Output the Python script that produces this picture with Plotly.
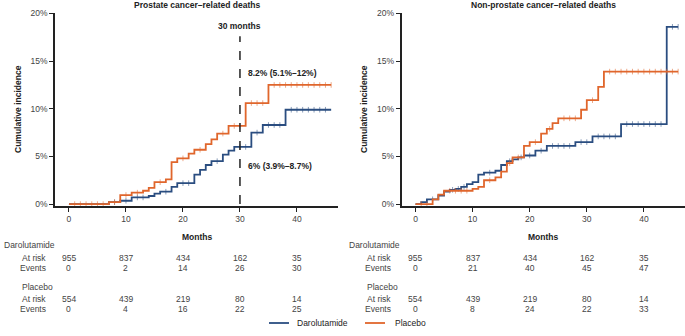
import plotly.graph_objects as go

W, H = 685, 336

# ---------------- data ----------------
months_ticks = [0, 10, 20, 30, 40]
pct_ticks = [0, 5, 10, 15, 20]
pct_labels = ["0%", "5%", "10%", "15%", "20%"]
end_month = 46

# Prostate cancer-related deaths
pc_daro_t = [0, 7, 9, 11, 14, 15, 16, 18, 19, 22, 23, 24, 25, 27, 28, 29, 32, 34, 38]
pc_daro_y = [0, 0.2, 0.35, 0.7, 0.85, 1.1, 1.3, 1.8, 2.2, 3.1, 3.6, 4.1, 4.5, 5.2, 5.6, 6.0, 7.5, 8.3, 9.9]
pc_plac_t = [0, 7, 9, 11, 13, 14, 15, 17, 18, 19, 21, 22, 24, 25, 26, 28, 31, 35]
pc_plac_y = [0, 0.2, 0.95, 1.2, 1.4, 1.7, 2.3, 2.6, 4.4, 4.8, 5.3, 5.7, 6.3, 6.8, 7.4, 8.2, 10.6, 12.5]
pc_daro_cens = [8, 10, 12, 13, 17, 20, 21, 26, 30, 31, 33, 35, 36, 37, 39, 40, 41, 42, 43, 44, 45]
pc_plac_cens = [1, 2, 3, 4, 5, 6, 8, 10, 12, 16, 20, 23, 27, 29, 30, 32, 33, 34, 36, 37, 38, 39, 40, 41, 42, 43, 44, 45, 46]

# Non-prostate cancer-related deaths
npc_daro_t = [0, 1, 2, 4, 5, 6, 7, 8, 9, 10, 11, 12, 14, 15, 16, 17, 18, 19, 21, 23, 28, 31, 36, 44]
npc_daro_y = [0, 0.2, 0.5, 0.9, 1.3, 1.5, 1.6, 1.8, 2.1, 2.3, 3.1, 3.3, 3.5, 4.1, 4.5, 4.7, 4.9, 5.1, 5.6, 6.1, 6.5, 7.1, 8.4, 18.6]
npc_plac_t = [0, 3, 4, 5, 10, 11, 12, 14, 15, 16, 17, 19, 20, 22, 23, 24, 25, 29, 30, 32, 33]
npc_plac_y = [0, 0.5, 1.0, 1.4, 1.6, 1.8, 2.5, 2.8, 3.4, 4.3, 4.9, 6.1, 6.5, 7.4, 7.9, 8.5, 9.0, 9.9, 10.9, 12.3, 13.9]
npc_daro_cens = [3, 6.5, 7.5, 8.5, 13, 16.5, 18.5, 20, 22, 24, 25, 26, 27, 29, 30, 32, 33, 34, 35, 37, 38, 39, 40, 41, 42, 43, 45, 46]
npc_plac_cens = [1, 2, 6, 7, 8, 9, 13, 16.5, 18, 21, 23.5, 26, 27, 28, 31, 34, 35, 36, 37, 38, 39, 40, 41, 42, 43, 44, 45, 46]

# risk tables
pc_daro_risk = [955, 837, 434, 162, 35]
pc_daro_events = [0, 2, 14, 26, 30]
pc_plac_risk = [554, 439, 219, 80, 14]
pc_plac_events = [0, 4, 16, 22, 25]
npc_daro_risk = [955, 837, 434, 162, 35]
npc_daro_events = [0, 21, 40, 45, 47]
npc_plac_risk = [554, 439, 219, 80, 14]
npc_plac_events = [0, 8, 24, 22, 33]

BLUE = "#2a4d80"
ORANGE = "#e0662c"
FONT = "Liberation Sans"
GRAY = "#444444"


def step_val(ts, ys, t):
    v = ys[0]
    for ti, yi in zip(ts, ys):
        if ti <= t:
            v = yi
    return v


fig = go.Figure()


def add_curves(ts, ys, cens, color, xa, ya, name):
    fig.add_trace(go.Scatter(
        x=ts + [end_month], y=ys + [ys[-1]], mode="lines",
        line=dict(color=color, width=1.8, shape="hv"),
        xaxis=xa, yaxis=ya, name=name, showlegend=False))
    fig.add_trace(go.Scatter(
        x=cens, y=[step_val(ts, ys, c) for c in cens], mode="markers",
        marker=dict(symbol="line-ns", size=4, line=dict(width=1, color=color), opacity=0.55),
        xaxis=xa, yaxis=ya, showlegend=False, hoverinfo="skip"))


add_curves(pc_daro_t, pc_daro_y, pc_daro_cens, BLUE, "x", "y", "Darolutamide")
add_curves(pc_plac_t, pc_plac_y, pc_plac_cens, ORANGE, "x", "y", "Placebo")
add_curves(npc_daro_t, npc_daro_y, npc_daro_cens, BLUE, "x2", "y2", "Darolutamide")
add_curves(npc_plac_t, npc_plac_y, npc_plac_cens, ORANGE, "x2", "y2", "Placebo")

# dashed 30-month line
fig.add_trace(go.Scatter(x=[30, 30], y=[0, 17.6], mode="lines",
                         line=dict(color="#222222", width=1.5, dash="dash"),
                         xaxis="x", yaxis="y", showlegend=False, hoverinfo="skip"))

xrange = [-2.45, 47.2]
yrange = [-0.2, 20.05]
left_dom = [55 / W, 338 / W]
right_dom = [401.5 / W, 1.0]
ydom = [1 - 206 / H, 1 - 13 / H]

axis_common = dict(showgrid=False, zeroline=False, showline=True, linecolor="#222222",
                   linewidth=1.5, ticks="outside", ticklen=4, tickwidth=1.2,
                   tickcolor="#222222", tickfont=dict(family=FONT, size=8.5, color=GRAY),
                   automargin=False)

fig.update_layout(
    width=W, height=H, margin=dict(l=0, r=0, t=0, b=0, autoexpand=False),
    plot_bgcolor="white", paper_bgcolor="white",
    font=dict(family=FONT, size=8.5, color="#222222"),
    xaxis=dict(domain=left_dom, range=xrange, tickvals=months_ticks, anchor="y", **axis_common),
    yaxis=dict(domain=ydom, range=yrange, tickvals=pct_ticks, ticktext=pct_labels,
               anchor="x", **axis_common),
    xaxis2=dict(domain=right_dom, range=xrange, tickvals=months_ticks, anchor="y2", **axis_common),
    yaxis2=dict(domain=ydom, range=yrange, tickvals=pct_ticks, ticktext=pct_labels,
                anchor="x2", **axis_common),
    showlegend=False,
)

ann = []


def txt(x, y, s, xref="paper", anchor="center", bold=False, size=8.5, color="#222222", angle=0):
    ann.append(dict(x=x if xref != "paper" else x / W, y=1 - y / H, xref=xref, yref="paper",
                    text=("<b>%s</b>" % s) if bold else s, showarrow=False,
                    xanchor=anchor, yanchor="middle", textangle=angle,
                    font=dict(family=FONT, size=size, color=color)))


# titles
txt(196.5, 5, "Prostate cancer\u2013related deaths", bold=True)
txt(543, 5, "Non-prostate cancer\u2013related deaths", bold=True)
txt(18, 109, "Cumulative incidence", bold=True, angle=-90)
txt(364, 109, "Cumulative incidence", bold=True, angle=-90)
txt(196.5, 237, "Months", bold=True)
txt(543, 237, "Months", bold=True)

# annotations on left chart
ann.append(dict(x=30, y=18.7, xref="x", yref="y", text="<b>30 months</b>", showarrow=False,
                xanchor="center", yanchor="middle", font=dict(family=FONT, size=8.5, color="#222222")))
ann.append(dict(x=31, y=13.8, xref="x", yref="y", text="<b>8.2% (5.1%\u201312%)</b>", showarrow=False,
                xanchor="left", yanchor="middle", font=dict(family=FONT, size=8.5, color="#222222")))
ann.append(dict(x=31, y=4.0, xref="x", yref="y", text="<b>6% (3.9%\u20138.7%)</b>", showarrow=False,
                xanchor="left", yanchor="middle", font=dict(family=FONT, size=8.5, color="#222222")))


def risk_table(xref, x0, rows):
    dr, de, pr, pe = rows
    txt(x0 + 2, 245, "Darolutamide", anchor="left", color=GRAY)
    txt(x0 + 48, 258, "At risk", anchor="right", color=GRAY)
    txt(x0 + 48, 268, "Events", anchor="right", color=GRAY)
    txt(x0 + 20, 287, "Placebo", anchor="left", color=GRAY)
    txt(x0 + 48, 299, "At risk", anchor="right", color=GRAY)
    txt(x0 + 48, 309, "Events", anchor="right", color=GRAY)
    for m, a, b, c, d in zip(months_ticks, dr, de, pr, pe):
        txt(m, 258, str(a), xref=xref, color=GRAY)
        txt(m, 268, str(b), xref=xref, color=GRAY)
        txt(m, 299, str(c), xref=xref, color=GRAY)
        txt(m, 309, str(d), xref=xref, color=GRAY)


risk_table("x", 0, (pc_daro_risk, pc_daro_events, pc_plac_risk, pc_plac_events))
risk_table("x2", 345, (npc_daro_risk, npc_daro_events, npc_plac_risk, npc_plac_events))

# manual legend
shapes = []
for (x0, x1, col, label, tx) in [(269, 289, BLUE, "Darolutamide", 295), (365, 385, ORANGE, "Placebo", 393)]:
    shapes.append(dict(type="line", xref="paper", yref="paper", x0=x0 / W, x1=x1 / W,
                       y0=1 - 323 / H, y1=1 - 323 / H, line=dict(color=col, width=1.8)))
    txt(tx, 323, label, anchor="left", color="#222222")

fig.update_layout(annotations=ann, shapes=shapes)
fig.write_html("out.html", config={"displayModeBar": False},
               post_script="document.body.style.margin='0';document.body.style.overflow='hidden';")
